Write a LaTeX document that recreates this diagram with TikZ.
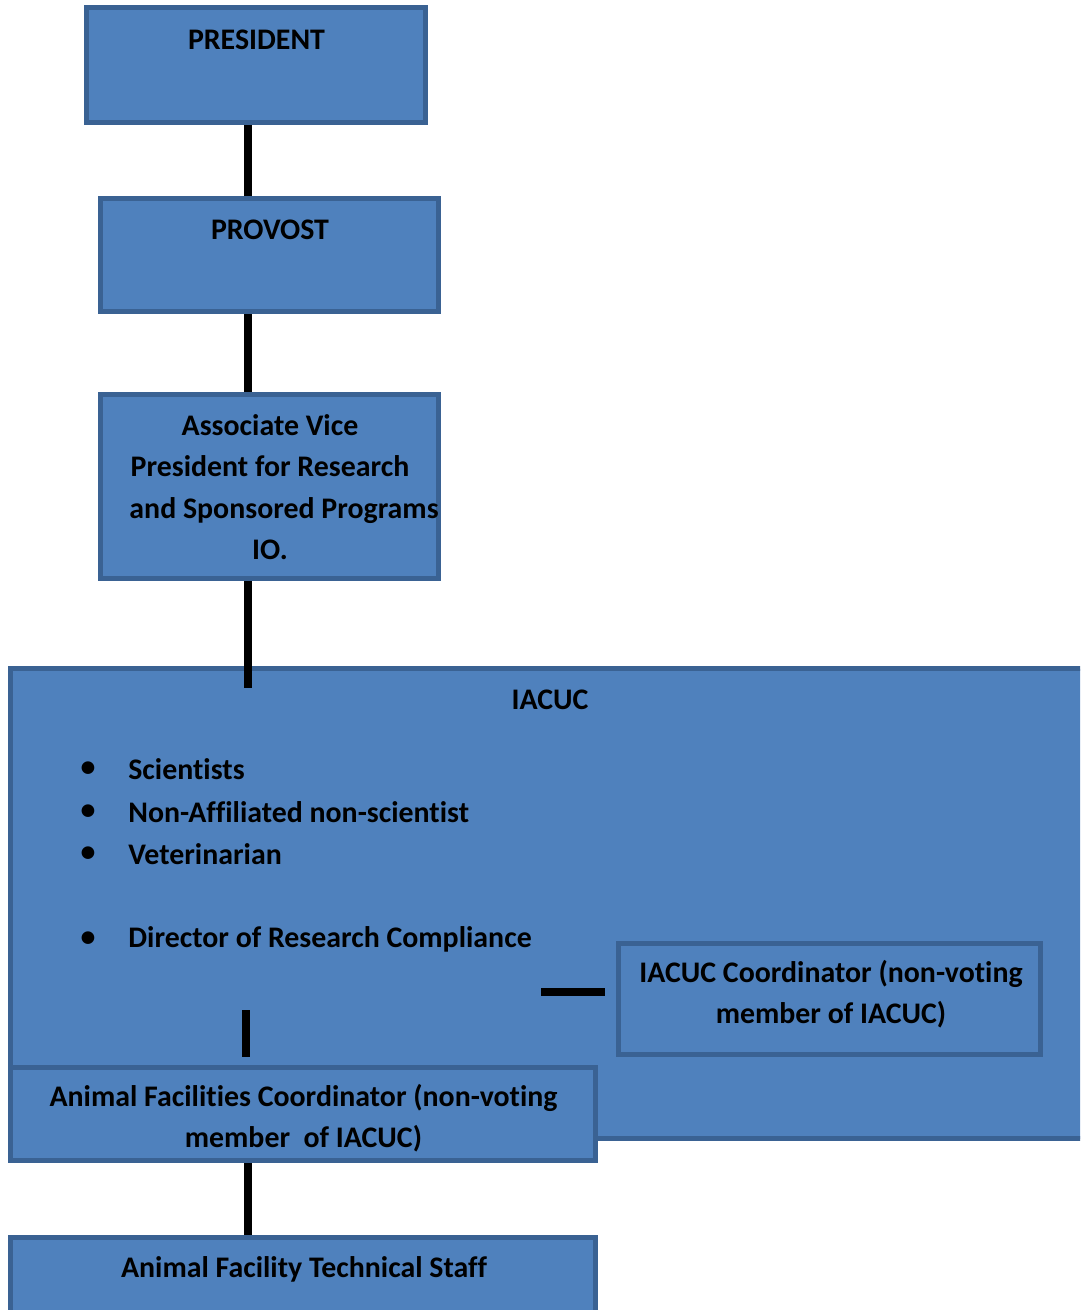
\documentclass[tikz,border=0pt]{standalone}
\usepackage{fontspec}
\setmainfont{Carlito}[Ligatures=NoCommon]
\usetikzlibrary{fit,positioning}
\definecolor{boxfill}{HTML}{4F81BD}
\definecolor{boxline}{HTML}{3A6293}
\tikzset{
	orgbox/.style = {draw=boxline, fill=boxfill, line width=3pt, inner sep=0pt},% framed box
	orgtxt/.style = {align=center, inner sep=0pt, text=black,
		font=\fontsize{17}{23.5}\selectfont\bfseries},% box text
	link/.style = {line width=4.8pt, black}% connector
}
\begin{document}
\begin{tikzpicture}[x=0.02cm, y=-0.02cm]
\useasboundingbox (0,0) rectangle (1080,1310);
\clip (0,0) rectangle (1080,1310);
% boxes
\node [orgbox, fit={(86.5,7.5) (425.5,122.5)}] (pres) {};
\node [orgbox, fit={(100.5,198.5) (438.5,311.5)}] (prov) {};
\node [orgbox, fit={(100.5,394.5) (438.5,578.5)}] (avp) {};
\node [orgbox, fit={(10.5,668.5) (1100,1138.5)}] (iacuc) {};
\node [orgbox, fit={(618.5,943.5) (1040.5,1054.5)}] (coord) {};
\node [orgbox, fit={(10.5,1067.5) (595.5,1160.5)}] (afc) {};
\node [orgbox, fit={(10.5,1237.5) (595.5,1330)}] (staff) {};
% texts
\node [orgtxt] (presT) at (256.5,40) {PRESIDENT};
\node [orgtxt] (provT) at (270,230) {PROVOST};
\node [orgtxt] (avpT) at (270,487) {Associate Vice\\President for Research\\
	\hspace*{16pt}and Sponsored Programs\\IO.};
\node [orgtxt] (iacucT) at (550,700) {IACUC};
\node [orgtxt, anchor=west] (sci) at (128,769) {Scientists};
\node [orgtxt, anchor=west] (nonaff) at (128,812) {Non-Affiliated non-scientist};
\node [orgtxt, anchor=west] (vet) at (128,854) {Veterinarian};
\node [orgtxt, anchor=west] (drc) at (128,939) {Director of Research Compliance};
\node [orgtxt] (b1) at (88,769) {\textbullet};
\node [orgtxt] (b2) at (88,812) {\textbullet};
\node [orgtxt] (b3) at (88,854) {\textbullet};
\node [orgtxt] (b4) at (88,939) {\textbullet};
\node [orgtxt] (coordT) at (831,994.5) {IACUC Coordinator (non-voting\\member of IACUC)};
\node [orgtxt] (afcT) at (303.5,1118.5) {Animal Facilities Coordinator (non-voting\\member\ \ of IACUC)};
\node [orgtxt] (staffT) at (304,1269) {Animal Facility Technical Staff};
% connectors
\coordinate (spine) at (248,0);
\coordinate (iacucIn) at (248,688);
\coordinate (vTop) at (246,1010);
\coordinate (vBot) at (246,1057);
\coordinate (hL) at (541,992);
\coordinate (hR) at (605,992);
\draw [link] (pres.south -| spine) -- (prov.north -| spine);
\draw [link] (prov.south -| spine) -- (avp.north -| spine);
\draw [link] (avp.south -| spine) -- (iacucIn);
\draw [link] (vTop) -- (vBot);
\draw [link] (hL) -- (hR);
\draw [link] (afc.south -| spine) -- (staff.north -| spine);
\end{tikzpicture}
\end{document}
